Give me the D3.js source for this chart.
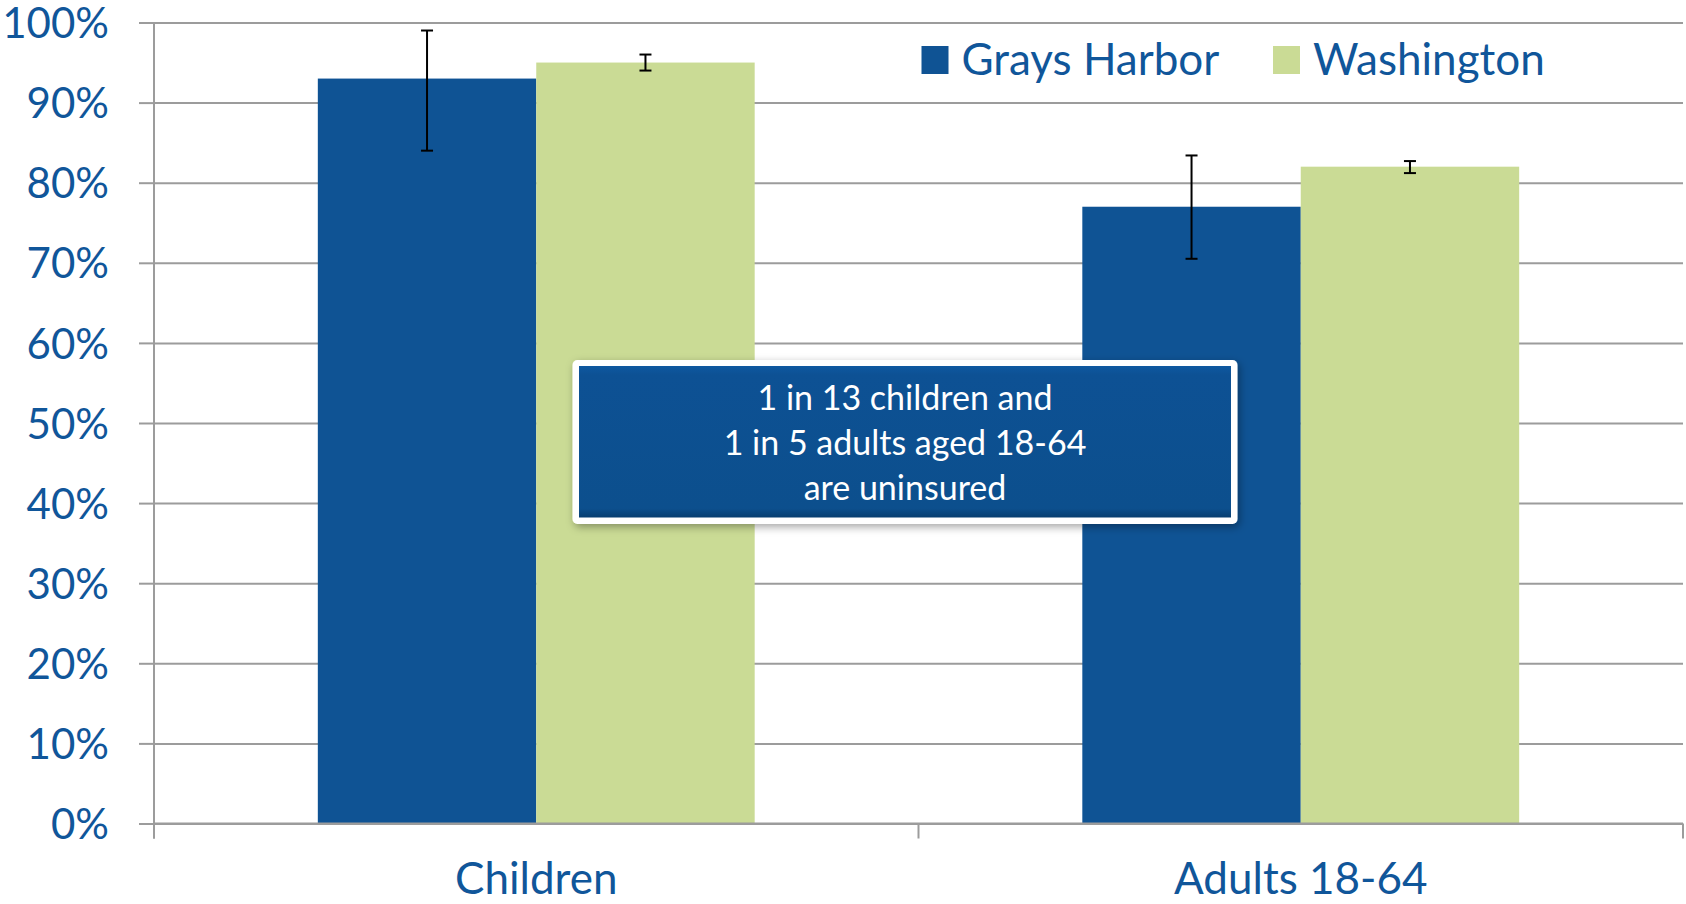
<!DOCTYPE html>
<html>
<head>
<meta charset="utf-8">
<script src="https://cdn.jsdelivr.net/npm/d3@7"></script>
<style>
  html, body { margin: 0; padding: 0; background: #fff; }
  svg { display: block; font-family: Lato, "Open Sans", sans-serif; }
</style>
</head>
<body>
<svg id="chart" width="1686" height="904"></svg>
<script>
// ---- data ----
const categories = ["Children", "Adults 18-64"];
const seriesNames = ["Grays Harbor", "Washington"];
const graysHarbor = [0.93, 0.77];
const graysHarborLow = [0.84, 0.705];
const graysHarborHigh = [0.99, 0.834];
const washington = [0.95, 0.82];
const washingtonLow = [0.94, 0.812];
const washingtonHigh = [0.96, 0.827];
const yTicks = [0, 0.1, 0.2, 0.3, 0.4, 0.5, 0.6, 0.7, 0.8, 0.9, 1.0];
const noteLines = ["1 in 13 children and", "1 in 5 adults aged 18-64", "are uninsured"];
const seriesColors = ["#0F5394", "#CADB95"];

const rows = categories.map((c, i) => ({
  category: c,
  values: [
    { series: seriesNames[0], v: graysHarbor[i], lo: graysHarborLow[i], hi: graysHarborHigh[i] },
    { series: seriesNames[1], v: washington[i], lo: washingtonLow[i], hi: washingtonHigh[i] }
  ]
}));

// ---- layout ----
const mLeft = 154, mRight = 1683, mTop = 22.5, mBottom = 823.5;
const svg = d3.select("#chart");
const textBlue = "#10569A";
const gridColor = "#9C9C9C";

const x = d3.scaleBand().domain(categories).range([mLeft, mRight]).padding(0);
const xs = d3.scaleBand().domain(seriesNames).range([0, x.bandwidth()]).paddingInner(0).paddingOuter(0.75);
const y = d3.scaleLinear().domain([0, 1]).range([mBottom, mTop]);
const color = d3.scaleOrdinal().domain(seriesNames).range(seriesColors);

// gridlines + y axis ticks
const yAxis = d3.axisLeft(y).tickValues(yTicks).tickSize(15).tickFormat(d3.format(".0%")).tickPadding(30);
const gy = svg.append("g").attr("transform", `translate(${mLeft},0)`).call(yAxis);
gy.select(".domain").remove();
gy.selectAll(".tick line").attr("stroke", gridColor).attr("stroke-width", 2);
gy.selectAll(".tick text")
  .attr("fill", textBlue).attr("font-size", 42).attr("font-family", "Lato, sans-serif")
  .attr("dy", "0.36em");

const grid = svg.append("g").attr("transform", `translate(${mLeft},0)`)
  .call(d3.axisLeft(y).tickValues(yTicks).tickSize(-(mRight - mLeft)).tickFormat(""));
grid.select(".domain").remove();
grid.selectAll(".tick line").attr("stroke", gridColor).attr("stroke-width", 2);

// y axis line
svg.append("line").attr("x1", mLeft).attr("x2", mLeft).attr("y1", mTop).attr("y2", mBottom + 15)
  .attr("stroke", gridColor).attr("stroke-width", 2);

// bars
const groups = svg.append("g").selectAll("g").data(rows).join("g")
  .attr("transform", d => `translate(${x(d.category)},0)`);
groups.selectAll("rect").data(d => d.values).join("rect")
  .attr("x", d => xs(d.series))
  .attr("width", xs.bandwidth())
  .attr("y", d => y(d.v))
  .attr("height", d => y(0) - y(d.v))
  .attr("fill", d => color(d.series));

// error bars
const eb = groups.selectAll("g.err").data(d => d.values).join("g").attr("class", "err")
  .attr("transform", d => `translate(${xs(d.series) + xs.bandwidth() / 2},0)`);
eb.append("line").attr("x1", 0).attr("x2", 0).attr("y1", d => y(d.hi)).attr("y2", d => y(d.lo))
  .attr("stroke", "#000").attr("stroke-width", 2);
eb.append("line").attr("x1", -6).attr("x2", 6).attr("y1", d => y(d.hi)).attr("y2", d => y(d.hi))
  .attr("stroke", "#000").attr("stroke-width", 2);
eb.append("line").attr("x1", -6).attr("x2", 6).attr("y1", d => y(d.lo)).attr("y2", d => y(d.lo))
  .attr("stroke", "#000").attr("stroke-width", 2);

// x axis
svg.append("line").attr("x1", mLeft).attr("x2", mRight).attr("y1", mBottom).attr("y2", mBottom)
  .attr("stroke", gridColor).attr("stroke-width", 2);
const boundaries = categories.map(c => x(c)).concat([x.range()[1]]);
svg.append("g").selectAll("line").data(boundaries).join("line")
  .attr("x1", d => d).attr("x2", d => d).attr("y1", mBottom).attr("y2", mBottom + 15)
  .attr("stroke", gridColor).attr("stroke-width", 2);
const gx = svg.append("g").attr("transform", `translate(0,${mBottom})`)
  .call(d3.axisBottom(x).tickSize(0).tickPadding(55));
gx.select(".domain").remove();
gx.selectAll(".tick text").attr("fill", textBlue).attr("font-size", 44)
  .attr("font-family", "Lato, sans-serif").attr("dy", "0.36em");

// legend
const legendX = [921.5, 1273];
const lg = svg.append("g").selectAll("g").data(seriesNames).join("g")
  .attr("transform", (d, i) => `translate(${legendX[i]},46)`);
lg.append("rect").attr("width", 27).attr("height", 28).attr("fill", d => color(d));
lg.append("text").attr("x", 40).attr("y", 13).attr("dy", "0.36em")
  .attr("fill", textBlue).attr("font-size", 44).attr("font-family", "Lato, sans-serif")
  .text(d => d);

// annotation box
const defs = svg.append("defs");
const f = defs.append("filter").attr("id", "shadow").attr("x", "-10%").attr("y", "-20%").attr("width", "120%").attr("height", "140%");
f.append("feDropShadow").attr("dx", 2).attr("dy", 3).attr("stdDeviation", 4).attr("flood-color", "#000").attr("flood-opacity", 0.35);
const grad = defs.append("linearGradient").attr("id", "boxgrad").attr("x1", 0).attr("x2", 0).attr("y1", 0).attr("y2", 1);
grad.append("stop").attr("offset", "0%").attr("stop-color", "#0E58A0");
grad.append("stop").attr("offset", "6%").attr("stop-color", "#0D5194");
grad.append("stop").attr("offset", "94%").attr("stop-color", "#0C4F8D");
grad.append("stop").attr("offset", "100%").attr("stop-color", "#083E70");

const bx0 = 572.5, bx1 = 1237.5, by0 = 360, by1 = 524;
svg.append("rect").attr("x", bx0).attr("y", by0).attr("width", bx1 - bx0).attr("height", by1 - by0)
  .attr("rx", 5).attr("fill", "#fff").attr("filter", "url(#shadow)");
svg.append("rect").attr("x", bx0 + 6.5).attr("y", by0 + 6).attr("width", bx1 - bx0 - 13).attr("height", by1 - by0 - 12.5)
  .attr("fill", "url(#boxgrad)");
const cx = (bx0 + bx1) / 2;
svg.append("g").selectAll("text").data(noteLines).join("text")
  .attr("x", cx).attr("y", (d, i) => 397.5 + i * 45).attr("dy", "0.36em")
  .attr("text-anchor", "middle").attr("fill", "#fff").attr("font-size", 34)
  .attr("font-family", "Lato, sans-serif")
  .text(d => d);
</script>
</body>
</html>
